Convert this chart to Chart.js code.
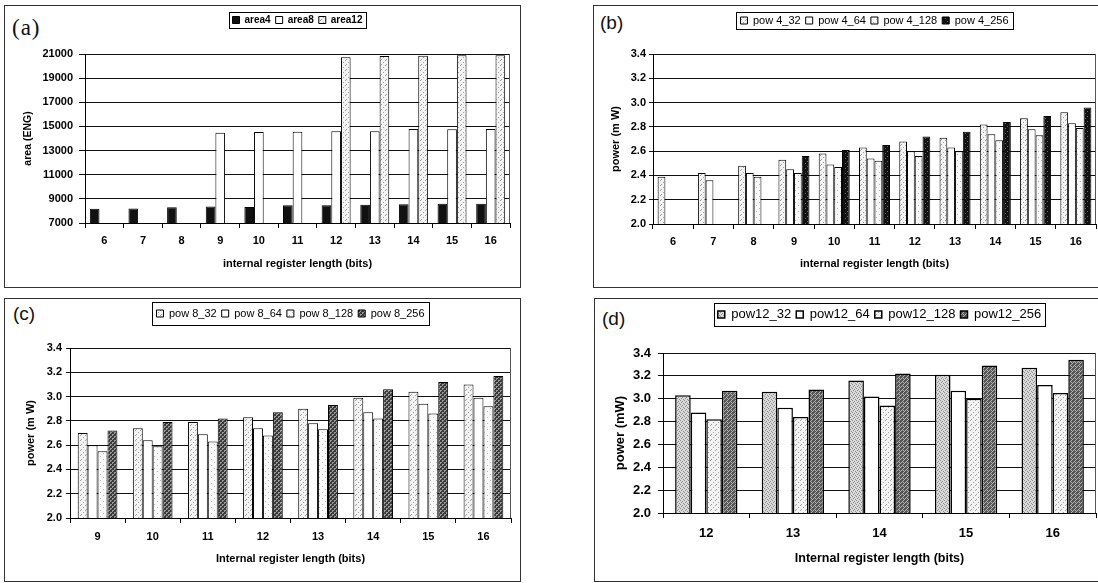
<!DOCTYPE html>
<html>
<head>
<meta charset="utf-8">
<script src="https://cdn.jsdelivr.net/npm/chart.js@4.4.0/dist/chart.umd.min.js"></script>
<style>
  body { margin: 0; background: #fff; width: 1098px; height: 583px; overflow: hidden; position: relative; }
  .frame { position: absolute; border: 1px solid #333; box-sizing: border-box; }
  .tag { position: absolute; color: #111; line-height: 1; }
  canvas { position: absolute; }
</style>
</head>
<body>
<div class="frame" style="left:4px;top:5px;width:517px;height:283px"></div>
<div class="frame" style="left:593px;top:5px;width:520px;height:283px"></div>
<div class="frame" style="left:4px;top:298px;width:517px;height:284px"></div>
<div class="frame" style="left:594px;top:298px;width:520px;height:284px"></div>

<div class="tag" style="left:12px;top:15px;font:23px 'Liberation Serif';letter-spacing:1px">(a)</div>
<div class="tag" style="left:600px;top:12px;font:19px 'Liberation Sans'">(b)</div>
<div class="tag" style="left:13px;top:303px;font:19px 'Liberation Sans'">(c)</div>
<div class="tag" style="left:602px;top:308px;font:19px 'Liberation Sans'">(d)</div>

<canvas id="chartA" width="545" height="290" style="left:0;top:0"></canvas>
<canvas id="chartB" width="553" height="290" style="left:545px;top:0"></canvas>
<canvas id="chartC" width="545" height="293" style="left:0;top:290px"></canvas>
<canvas id="chartD" width="553" height="293" style="left:545px;top:290px"></canvas>

<script>
// (a) area
const regLenA = ['6', '7', '8', '9', '10', '11', '12', '13', '14', '15', '16'];
const area4 = [8180, 8200, 8300, 8370, 8330, 8470, 8470, 8520, 8560, 8600, 8600];
const area8 = [null, null, null, 14470, 14530, 14550, 14600, 14600, 14780, 14760, 14780];
const area12 = [null, null, null, null, null, null, 20730, 20840, 20860, 20900, 20900];
const areaTicks = [7000, 9000, 11000, 13000, 15000, 17000, 19000, 21000];

// (b) power, 4-bit
const regLenB = ['6', '7', '8', '9', '10', '11', '12', '13', '14', '15', '16'];
const pow4_32 = [2.39, 2.42, 2.48, 2.53, 2.58, 2.63, 2.68, 2.71, 2.82, 2.87, 2.92];
const pow4_64 = [null, 2.36, 2.42, 2.45, 2.49, 2.54, 2.60, 2.63, 2.74, 2.78, 2.83];
const pow4_128 = [null, null, 2.39, 2.42, 2.47, 2.52, 2.56, 2.60, 2.69, 2.73, 2.79];
const pow4_256 = [null, null, null, 2.56, 2.61, 2.65, 2.72, 2.76, 2.84, 2.89, 2.96];

// (c) power, 8-bit
const regLenC = ['9', '10', '11', '12', '13', '14', '15', '16'];
const pow8_32 = [2.70, 2.74, 2.79, 2.83, 2.90, 2.99, 3.04, 3.10];
const pow8_64 = [2.60, 2.64, 2.69, 2.74, 2.78, 2.87, 2.94, 2.99];
const pow8_128 = [2.55, 2.59, 2.63, 2.68, 2.73, 2.82, 2.86, 2.92];
const pow8_256 = [2.72, 2.79, 2.82, 2.87, 2.93, 3.06, 3.12, 3.17];

// (d) power, 12-bit
const regLenD = ['12', '13', '14', '15', '16'];
const pow12_32 = [3.03, 3.06, 3.16, 3.21, 3.27];
const pow12_64 = [2.88, 2.92, 3.02, 3.07, 3.12];
const pow12_128 = [2.82, 2.84, 2.94, 3.00, 3.05];
const pow12_256 = [3.07, 3.08, 3.22, 3.29, 3.34];

const powerTicks = [2.0, 2.2, 2.4, 2.6, 2.8, 3.0, 3.2, 3.4];

Chart.defaults.font.family = "'Liberation Sans', Arial, sans-serif";
Chart.defaults.color = '#000';

// small fixed tiles to imitate the scanned fill textures
const scratch = document.createElement('canvas').getContext('2d');
function tile(size, bg, fg, pts) {
  const c = document.createElement('canvas');
  c.width = c.height = size;
  const g = c.getContext('2d');
  g.fillStyle = bg;
  g.fillRect(0, 0, size, size);
  g.fillStyle = fg;
  pts.forEach(p => g.fillRect(p[0], p[1], 1, 1));
  return scratch.createPattern(c, 'repeat');
}
const dotsLight = tile(5, '#f3f3f3', '#a0a0a0', [[0, 0], [3, 2], [1, 4]]);
const dotsPale = tile(6, '#f8f8f8', '#b4b4b4', [[1, 1], [4, 4]]);
const dotsGray = tile(4, '#dadada', '#8c8c8c', [[0, 0], [2, 1], [1, 3], [3, 2]]);
const blackDots = tile(5, '#111', '#6a6a6a', [[2, 1], [0, 3]]);
const checkDark = tile(4, '#3a3a3a', '#9a9a9a', [[0, 0], [2, 2], [1, 0], [3, 2], [0, 1], [2, 3]]);
const checkMid = tile(4, '#555', '#b4b4b4', [[0, 0], [2, 2], [1, 3], [3, 1], [2, 0]]);

// border around the legend items, fixed legend height, right edge of plot
const legendFrame = {
  id: 'legendFrame',
  beforeLayout(chart, args, opts) {
    const lg = chart.legend;
    if (lg && !lg.fixedFit) {
      const fit = lg.fit;
      lg.fit = function () { fit.call(this); this.height = opts.height; };
      lg.fixedFit = true;
    }
  },
  afterDraw(chart, args, opts) {
    const hb = chart.legend.legendHitBoxes;
    if (!hb || !hb.length) return;
    const last = hb[hb.length - 1];
    const ctx = chart.ctx;
    ctx.save();
    ctx.strokeStyle = '#000';
    ctx.lineWidth = 1;
    const x0 = Math.round(hb[0].left - opts.padX) + 0.5;
    const x1 = Math.round(last.left + last.width + opts.padX) + 0.5;
    const y0 = Math.round(hb[0].top - opts.padY) + 0.5;
    const y1 = Math.round(hb[0].top + hb[0].height + opts.padY) + 0.5;
    ctx.strokeRect(x0, y0, x1 - x0, y1 - y0);
    // right edge of the plot area
    const a = chart.chartArea;
    ctx.strokeStyle = '#555';
    ctx.beginPath();
    ctx.moveTo(Math.round(a.right) - 0.5, a.top);
    ctx.lineTo(Math.round(a.right) - 0.5, a.bottom);
    ctx.stroke();
    ctx.restore();
  }
};

// canvas: page box of the canvas; plot: page box of the plot area
function panel(id, canvas, plot, cfg) {
  const yW = plot.l - canvas.x;
  const xH = canvas.y + canvas.h - plot.b;
  const ticks = cfg.ticks;
  return new Chart(document.getElementById(id), {
    type: 'bar',
    data: {
      labels: cfg.labels,
      datasets: cfg.datasets.map(d => ({
        label: d.label,
        data: d.data,
        backgroundColor: d.fill,
        borderColor: '#000',
        borderWidth: cfg.bw,
        categoryPercentage: cfg.cat,
        barPercentage: 1
      }))
    },
    options: {
      responsive: false,
      animation: false,
      devicePixelRatio: 1,
      layout: { padding: { left: 0, top: cfg.legTop, right: canvas.x + canvas.w - plot.r, bottom: 0 } },
      plugins: {
        legend: {
          position: 'top',
          fullSize: false,
          labels: { boxWidth: 7, boxHeight: 7, padding: 5, color: '#000', font: cfg.legFont }
        },
        tooltip: { enabled: false },
        legendFrame: { height: plot.t - canvas.y - cfg.legTop, padX: cfg.legPadX, padY: cfg.legPadY }
      },
      scales: {
        x: {
          grid: { offset: true, drawOnChartArea: false, tickLength: 5, color: '#000' },
          border: { color: '#000' },
          ticks: { font: cfg.tickFont, padding: cfg.xPad, maxRotation: 0, autoSkip: false },
          title: { display: true, text: cfg.xTitle, font: cfg.titleFont, padding: { top: 0, bottom: cfg.xTitlePad } },
          afterFit: s => { s.height = xH; }
        },
        y: {
          min: ticks[0],
          max: ticks[ticks.length - 1],
          grid: { color: '#111', tickLength: cfg.yTick },
          border: { color: '#000' },
          ticks: { stepSize: ticks[1] - ticks[0], font: cfg.tickFont, padding: cfg.yPad, callback: cfg.fmt },
          title: { display: true, text: cfg.yTitle, font: cfg.yTitleFont || cfg.titleFont, padding: { top: cfg.yTitlePad, bottom: 0 } },
          afterFit: s => { s.width = yW; }
        }
      }
    },
    plugins: [legendFrame]
  });
}

const bold11 = { size: 11, weight: 'bold' };
const fmtPower = v => v.toFixed(1);

panel('chartA', { x: 0, y: 0, w: 545, h: 290 }, { l: 85, r: 510, t: 54, b: 223 }, {
  labels: regLenA,
  datasets: [
    { label: 'area4', data: area4, fill: '#111' },
    { label: 'area8', data: area8, fill: '#fff' },
    { label: 'area12', data: area12, fill: dotsLight }
  ],
  ticks: areaTicks, fmt: v => String(v),
  cat: 0.75, bw: 1,
  legTop: 10, legFont: { size: 10, weight: 'bold' }, legPadX: 4, legPadY: 3,
  tickFont: bold11, xPad: 6, yTick: 6, yPad: 6,
  xTitle: 'internal register length (bits)', xTitlePad: 19,
  yTitle: 'area (ENG)', yTitlePad: 22, titleFont: bold11, yTitleFont: { size: 10.5, weight: 'bold' }
});

panel('chartB', { x: 545, y: 0, w: 553, h: 290 }, { l: 653, r: 1096, t: 54, b: 224 }, {
  labels: regLenB,
  datasets: [
    { label: 'pow 4_32', data: pow4_32, fill: dotsLight },
    { label: 'pow 4_64', data: pow4_64, fill: '#fff' },
    { label: 'pow 4_128', data: pow4_128, fill: dotsPale },
    { label: 'pow 4_256', data: pow4_256, fill: blackDots }
  ],
  ticks: powerTicks, fmt: fmtPower,
  cat: 0.77, bw: 1,
  legTop: 10, legFont: { size: 11 }, legPadX: 4, legPadY: 3,
  tickFont: bold11, xPad: 6, yTick: 4, yPad: 3,
  xTitle: 'internal register length (bits)', xTitlePad: 19,
  yTitle: 'power (m W)', yTitlePad: 64, titleFont: bold11
});

panel('chartC', { x: 0, y: 290, w: 545, h: 293 }, { l: 70, r: 511, t: 348, b: 518 }, {
  labels: regLenC,
  datasets: [
    { label: 'pow 8_32', data: pow8_32, fill: dotsLight },
    { label: 'pow 8_64', data: pow8_64, fill: '#fff' },
    { label: 'pow 8_128', data: pow8_128, fill: dotsPale },
    { label: 'pow 8_256', data: pow8_256, fill: checkDark }
  ],
  ticks: powerTicks, fmt: fmtPower,
  cat: 0.72, bw: 1,
  legTop: 13, legFont: { size: 11 }, legPadX: 4, legPadY: 6,
  tickFont: bold11, xPad: 7, yTick: 4, yPad: 4,
  xTitle: 'Internal register length (bits)', xTitlePad: 17,
  yTitle: 'power (m W)', yTitlePad: 24, titleFont: bold11
});

panel('chartD', { x: 545, y: 290, w: 553, h: 293 }, { l: 663, r: 1096, t: 353, b: 513 }, {
  labels: regLenD,
  datasets: [
    { label: 'pow12_32', data: pow12_32, fill: dotsGray },
    { label: 'pow12_64', data: pow12_64, fill: '#fff' },
    { label: 'pow12_128', data: pow12_128, fill: dotsLight },
    { label: 'pow12_256', data: pow12_256, fill: checkMid }
  ],
  ticks: powerTicks, fmt: fmtPower,
  cat: 0.72, bw: 1.5,
  legTop: 13, legFont: { size: 13 }, legPadX: 4, legPadY: 5,
  tickFont: { size: 13, weight: 'bold' }, xPad: 8, yTick: 5, yPad: 7,
  xTitle: 'Internal register length (bits)', xTitlePad: 17,
  yTitle: 'power (mW)', yTitlePad: 68, titleFont: { size: 12.5, weight: 'bold' }, yTitleFont: { size: 13, weight: 'bold' }
});
</script>
</body>
</html>
